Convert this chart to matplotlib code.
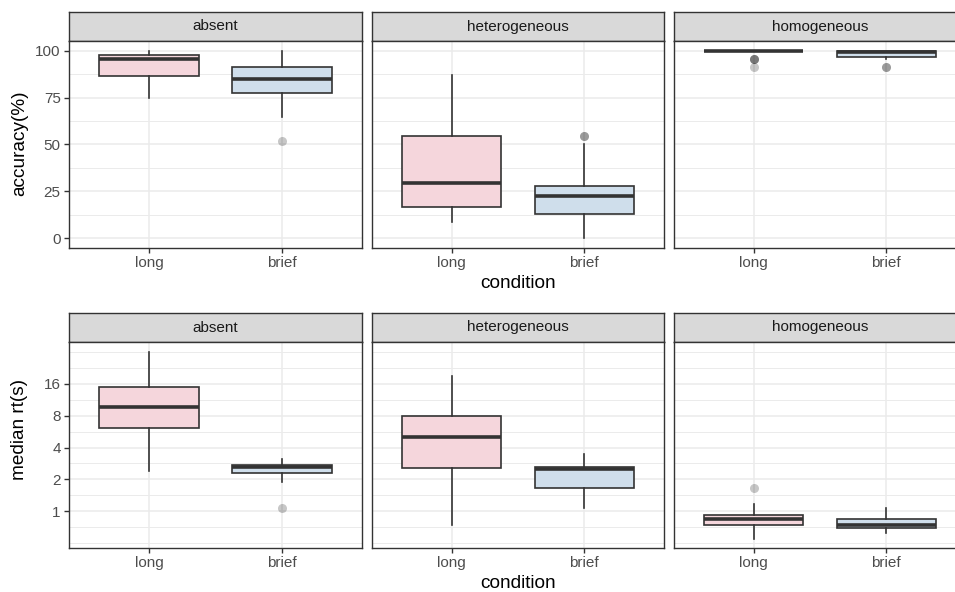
import numpy as np
import matplotlib
matplotlib.use('Agg')
import matplotlib.pyplot as plt
from matplotlib.ticker import FixedLocator, NullFormatter

plt.rcParams['font.family'] = ['Liberation Sans', 'DejaVu Sans']

# ---- data ----
facets = ['absent', 'heterogeneous', 'homogeneous']
conditions = ['long', 'brief']

# accuracy (%), per facet: [long, brief]
acc_whislo = [[75.0, 64.5], [8.7, 0.0], [100.0, 95.8]]
acc_q1 = [[86.7, 77.3], [16.9, 13.1], [100.0, 96.5]]
acc_med = [[95.6, 85.1], [29.6, 22.5], [100.0, 99.6]]
acc_q3 = [[98.0, 91.5], [54.4, 27.8], [100.0, 100.0]]
acc_whishi = [[100.0, 100.0], [87.2, 50.0], [100.0, 100.0]]
acc_fliers = [[[], [52.0]], [[], [54.4, 54.4]], [[95.6, 95.6, 95.6, 91.5], [91.5, 91.5]]]

# median rt (s), per facet: [long, brief]
rt_whislo = [[2.38, 1.89], [0.74, 1.07], [0.55, 0.63]]
rt_q1 = [[6.1, 2.31], [2.59, 1.67], [0.74, 0.69]]
rt_med = [[9.6, 2.61], [5.07, 2.5], [0.84, 0.75]]
rt_q3 = [[14.9, 2.71], [7.94, 2.63], [0.93, 0.84]]
rt_whishi = [[32.0, 3.1], [18.9, 3.47], [1.17, 1.08]]
rt_fliers = [[[], [1.07]], [[], []], [[1.66], []]]

acc_ticks = [0, 25, 50, 75, 100]
rt_ticks = [1, 2, 4, 8, 16]

fill_colors = ['#F5D6DC', '#CFDEEB']
edge = '#333333'
grid_c = '#EBEBEB'

W, H = 955, 592
fig = plt.figure(figsize=(W / 100, H / 100), dpi=100)


def rect(x0, x1, y0, y1):
    return [x0 / W, 1 - y1 / H, (x1 - x0) / W, (y1 - y0) / H]


col_x = [(69, 362), (372, 664), (674, 966)]
rows = [dict(strip=(12, 41), panel=(41, 248)), dict(strip=(313, 342), panel=(342, 548))]


def make_stats(whislo, q1, med, q3, whishi, fliers, i):
    out = []
    for j in range(2):
        out.append(dict(whislo=whislo[i][j], q1=q1[i][j], med=med[i][j], q3=q3[i][j],
                        whishi=whishi[i][j], fliers=fliers[i][j]))
    return out


for r, row in enumerate(rows):
    for i, name in enumerate(facets):
        x0, x1 = col_x[i]
        sx = fig.add_axes(rect(x0, x1, *row['strip']))
        sx.set_facecolor('#D9D9D9')
        sx.set_xticks([])
        sx.set_yticks([])
        for s in sx.spines.values():
            s.set_color(edge)
            s.set_linewidth(1.0)
        sx.text(0.5, 0.5, name, ha='center', va='center', fontsize=11, color='#1A1A1A',
                transform=sx.transAxes)

        ax = fig.add_axes(rect(x0, x1, *row['panel']))
        ax.set_axisbelow(True)
        if r == 0:
            stats = make_stats(acc_whislo, acc_q1, acc_med, acc_q3, acc_whishi, acc_fliers, i)
        else:
            ax.set_yscale('log', base=2)
            stats = make_stats(rt_whislo, rt_q1, rt_med, rt_q3, rt_whishi, rt_fliers, i)

        bp = ax.bxp(stats, positions=[1, 2], widths=0.75, patch_artist=True, showcaps=False,
                    boxprops=dict(edgecolor=edge, linewidth=1.2),
                    whiskerprops=dict(color=edge, linewidth=1.2),
                    medianprops=dict(color=edge, linewidth=2.6, solid_capstyle='butt'),
                    flierprops=dict(marker='o', markerfacecolor='black', markeredgecolor='none',
                                    markersize=6.5, alpha=0.22))
        for patch, fc in zip(bp['boxes'], fill_colors):
            patch.set_facecolor(fc)

        ax.set_xlim(0.4, 2.6)
        ax.set_xticks([1, 2])
        ax.set_xticklabels(conditions)
        if r == 0:
            ax.set_ylim(-5.25, 105.25)
            ax.yaxis.set_major_locator(FixedLocator(acc_ticks))
            ax.yaxis.set_minor_locator(FixedLocator([12.5, 37.5, 62.5, 87.5]))
        else:
            ax.set_ylim(0.45, 39.7)
            ax.yaxis.set_major_locator(FixedLocator(rt_ticks))
            ax.yaxis.set_minor_locator(FixedLocator([0.5, 2 ** -0.5, 2 ** 0.5, 2 ** 1.5,
                                                     2 ** 2.5, 2 ** 3.5, 2 ** 4.5, 32]))
            ax.yaxis.set_minor_formatter(NullFormatter())
            ax.set_yticklabels([str(t) for t in rt_ticks])
        ax.grid(True, which='major', color=grid_c, linewidth=1.1)
        ax.grid(True, which='minor', axis='y', color=grid_c, linewidth=0.7)
        ax.tick_params(which='minor', length=0)
        ax.tick_params(which='major', length=3.5, width=1.0, color=edge, labelsize=11,
                       labelcolor='#4D4D4D', pad=2.5)
        if i > 0:
            ax.tick_params(axis='y', which='both', length=0, labelleft=False)
        for s in ax.spines.values():
            s.set_color(edge)
            s.set_linewidth(1.0)

    py = 284 if r == 0 else 583
    fig.text(518 / W, 1 - py / H, 'condition', ha='center', va='center', fontsize=13.7)

fig.text(20 / W, 1 - 143 / H, 'accuracy(%)', rotation=90, ha='center', va='center', fontsize=13.7)
fig.text(20 / W, 1 - 430 / H, 'median rt(s)', rotation=90, ha='center', va='center', fontsize=13.7)

fig.savefig('out.png', dpi=100)
